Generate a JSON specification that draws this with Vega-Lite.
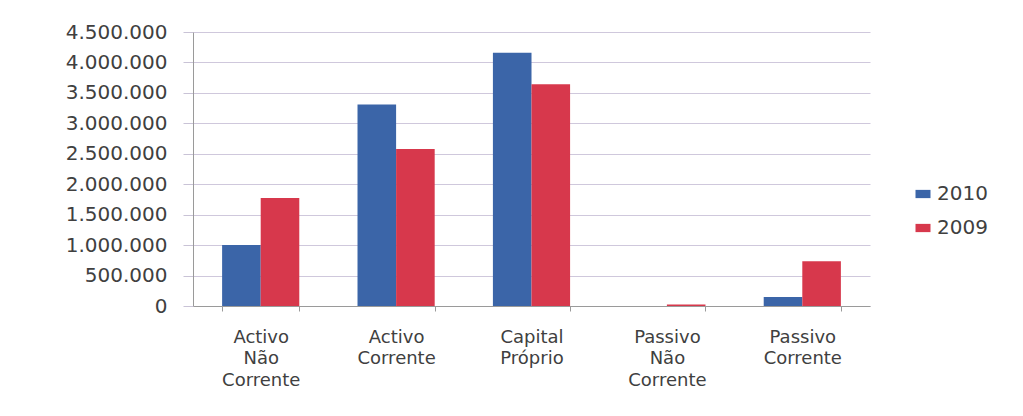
{
  "$schema": "https://vega.github.io/schema/vega-lite/v6.json",
  "width": 677,
  "height": 274,
  "autosize": {"type": "none"},
  "padding": {"left": 193, "top": 32, "right": 153, "bottom": 110},
  "background": "white",
  "config": {
    "locale": {"number": {"decimal": ",", "thousands": ".", "grouping": [3], "currency": ["", " €"]}},
    "view": {"stroke": null},
    "font": "DejaVu Sans"
  },
  "data": {
    "values": [
      {"categoria": "Activo Não Corrente", "ano": "2010", "valor": 1000000},
      {"categoria": "Activo Não Corrente", "ano": "2009", "valor": 1775000},
      {"categoria": "Activo Corrente", "ano": "2010", "valor": 3310000},
      {"categoria": "Activo Corrente", "ano": "2009", "valor": 2580000},
      {"categoria": "Capital Próprio", "ano": "2010", "valor": 4160000},
      {"categoria": "Capital Próprio", "ano": "2009", "valor": 3640000},
      {"categoria": "Passivo Não Corrente", "ano": "2010", "valor": 0},
      {"categoria": "Passivo Não Corrente", "ano": "2009", "valor": 25000},
      {"categoria": "Passivo Corrente", "ano": "2010", "valor": 148000},
      {"categoria": "Passivo Corrente", "ano": "2009", "valor": 735000}
    ]
  },
  "mark": {"type": "bar"},
  "encoding": {
    "x": {
      "field": "categoria",
      "type": "nominal",
      "sort": ["Activo Não Corrente", "Activo Corrente", "Capital Próprio", "Passivo Não Corrente", "Passivo Corrente"],
      "scale": {"paddingInner": 0.43, "paddingOuter": 0.215},
      "axis": {
        "title": null,
        "labelAngle": 0,
        "labelExpr": "datum.value ? split(datum.value, ' ') : ''",
        "labelFontSize": 18,
        "labelLineHeight": 21.5,
        "labelColor": "#404040",
        "labelPadding": 17,
        "labelBaseline": "top",
        "tickBand": "extent",
        "tickSize": 5,
        "tickColor": "#9a9a9a",
        "domainColor": "#9a9a9a",
        "grid": false
      }
    },
    "xOffset": {"field": "ano", "type": "nominal", "sort": ["2010", "2009"]},
    "y": {
      "field": "valor",
      "type": "quantitative",
      "scale": {"domain": [0, 4500000], "nice": false},
      "axis": {
        "title": null,
        "values": [0, 500000, 1000000, 1500000, 2000000, 2500000, 3000000, 3500000, 4000000, 4500000],
        "format": ",d",
        "labelFontSize": 20,
        "labelColor": "#404040",
        "labelPadding": 16,
        "tickSize": 10,
        "tickColor": "#c9c3d6",
        "domainColor": "#9a9a9a",
        "gridColor": "#cfc8dc",
        "gridWidth": 1
      }
    },
    "color": {
      "field": "ano",
      "type": "nominal",
      "sort": ["2010", "2009"],
      "scale": {"domain": ["2010", "2009"], "range": ["#3B65A8", "#D7384C"]},
      "legend": {
        "title": null,
        "orient": "none",
        "legendX": 720,
        "legendY": 152,
        "padding": 0,
        "symbolType": "M-1,-0.55H1V0.55H-1Z",
        "symbolSize": 225,
        "symbolStrokeWidth": 0,
        "labelFontSize": 20,
        "labelColor": "#404040",
        "labelOffset": 4,
        "rowPadding": 14
      }
    }
  }
}
